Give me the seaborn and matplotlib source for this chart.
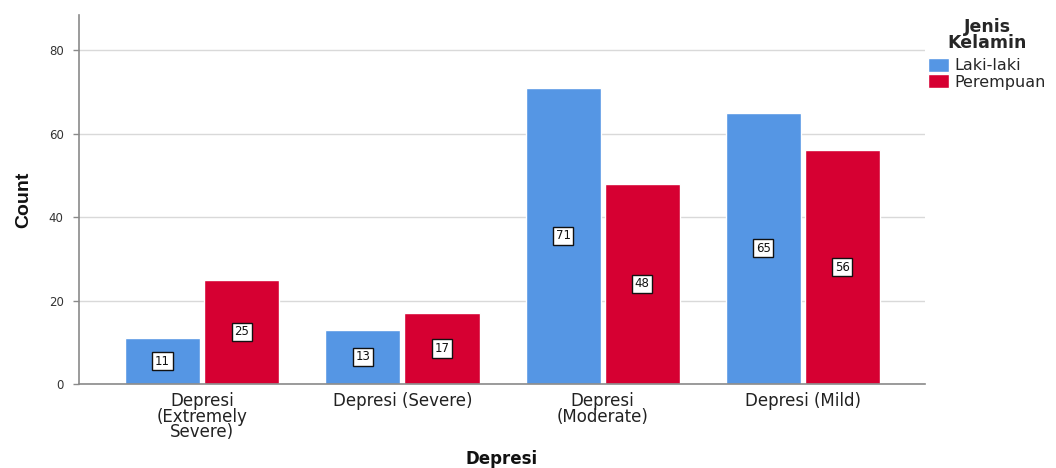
import matplotlib
matplotlib.use("Agg")
import matplotlib.pyplot as plt
import seaborn as sns
import pandas as pd

categories = ["Depresi\n(Extremely\nSevere)", "Depresi (Severe)", "Depresi\n(Moderate)", "Depresi (Mild)"]
genders = ["Laki-laki", "Perempuan"]
laki_counts = [11, 13, 71, 65]
perempuan_counts = [25, 17, 48, 56]
y_ticks = [0, 20, 40, 60, 80]

df = pd.DataFrame({
    "Depresi": categories * 2,
    "Jenis Kelamin": [genders[0]] * 4 + [genders[1]] * 4,
    "Count": laki_counts + perempuan_counts,
})

sns.set_theme(style="white")
plt.rcParams["font.family"] = ["DejaVu Sans"]

fig = plt.figure(figsize=(10.56, 4.68), dpi=100)
ax = fig.add_axes([0.0748, 0.1795, 0.8012, 0.7885])

palette = {"Laki-laki": "#5596E4", "Perempuan": "#D60032"}
sns.barplot(data=df, x="Depresi", y="Count", hue="Jenis Kelamin", order=categories,
            hue_order=genders, palette=palette, width=0.79, gap=0.05,
            saturation=1, ax=ax, legend=True)

for cont in ax.containers:
    ax.bar_label(cont, label_type="center", fontsize=8.5, color="#111111",
                 bbox=dict(boxstyle="square,pad=0.22", facecolor="white",
                           edgecolor="#111111", linewidth=1.0))

ax.set_xlim(-0.615, 3.61)
ax.set_ylim(0, 88.4)
ax.set_yticks(y_ticks)
ax.yaxis.grid(True, color="#d9d9d9", linewidth=1.0)
ax.set_axisbelow(True)
for s in ["top", "right"]:
    ax.spines[s].set_visible(False)
for s in ["left", "bottom"]:
    ax.spines[s].set_color("#8a8a8a")
    ax.spines[s].set_linewidth(1.2)

ax.tick_params(axis="y", which="both", left=True, length=4, width=1, color="#8a8a8a",
               labelsize=8.5, labelcolor="#333333", pad=7)
ax.tick_params(axis="x", bottom=False, labelsize=12, labelcolor="#222222", pad=0)
for lbl in ax.get_xticklabels():
    lbl.set_linespacing(0.82)
    lbl.set_verticalalignment("top")

ax.set_ylabel("Count", fontsize=14, family=["Liberation Sans"],
              fontweight="bold", color="#111111", labelpad=12)
ax.set_xlabel("Depresi", fontsize=12, fontweight="bold", color="#111111")
ax.xaxis.set_label_coords(0.5, -0.178)

handles, labels = ax.get_legend_handles_labels()
leg = ax.legend(handles, labels, title="Jenis\nKelamin", loc="upper left",
                bbox_to_anchor=(1.0, 1.0), frameon=False, fontsize=11.5,
                title_fontproperties={"weight": "bold", "size": 12.5},
                handlelength=1.3, handleheight=1.0, handletextpad=0.35,
                labelspacing=0.05, borderaxespad=0.0, borderpad=0.2,
                alignment="center")
leg.get_title().set_linespacing(0.85)
leg.get_title().set_multialignment("center")
leg._legend_box.sep = 4

fig.savefig("out.png", dpi=100)
